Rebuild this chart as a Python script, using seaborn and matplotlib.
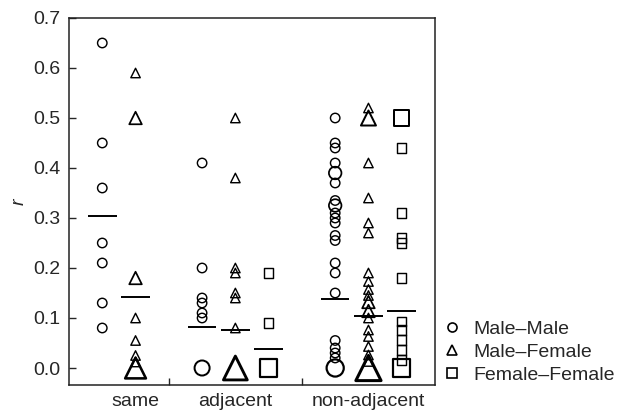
import numpy as np
import pandas as pd
import matplotlib
matplotlib.use("Agg")
import matplotlib.pyplot as plt
from matplotlib.lines import Line2D
import seaborn as sns

# r values and number of pairs sharing each value (marker size)
same_mm_r = [0.65, 0.45, 0.36, 0.25, 0.21, 0.13, 0.08]
same_mm_n = [1, 1, 1, 1, 1, 1, 1]
same_mf_r = [0.59, 0.50, 0.18, 0.10, 0.055, 0.025, 0.012, 0.0]
same_mf_n = [1, 2, 2, 1, 1, 1, 1, 6]

adj_mm_r = [0.41, 0.20, 0.14, 0.13, 0.11, 0.10, 0.0]
adj_mm_n = [1, 1, 1, 1, 1, 1, 3]
adj_mf_r = [0.50, 0.38, 0.20, 0.19, 0.15, 0.14, 0.08, 0.0]
adj_mf_n = [1, 1, 1, 1, 1, 1, 1, 8]
adj_ff_r = [0.19, 0.09, 0.0]
adj_ff_n = [1, 1, 4]

nonadj_mm_r = [0.50, 0.45, 0.44, 0.41, 0.39, 0.37, 0.335, 0.325, 0.31, 0.30,
               0.29, 0.265, 0.255, 0.21, 0.19, 0.15, 0.055, 0.04, 0.03, 0.02, 0.0]
nonadj_mm_n = [1, 1, 1, 1, 2, 1, 1, 2, 1, 1,
               1, 1, 1, 1, 1, 1, 1, 1, 1, 1, 4]
nonadj_mf_r = [0.52, 0.50, 0.41, 0.34, 0.29, 0.27, 0.19, 0.173, 0.157, 0.145,
               0.132, 0.114, 0.10, 0.076, 0.063, 0.043, 0.026, 0.013, 0.0]
nonadj_mf_n = [1, 3, 1, 1, 1, 1, 1, 1, 1, 1,
               2, 2, 1, 1, 1, 1, 1, 1, 9]
nonadj_ff_r = [0.50, 0.44, 0.31, 0.26, 0.25, 0.18, 0.093, 0.076, 0.056, 0.036, 0.016, 0.0]
nonadj_ff_n = [3, 1, 1, 1, 1, 1, 1, 1, 1, 1, 1, 4]

# mean r of each group (horizontal bars)
mean_same = [0.304, 0.142]
mean_adj = [0.083, 0.076, 0.038]
mean_nonadj = [0.139, 0.104, 0.115]

groups = ["same", "adjacent", "non-adjacent"]
pairs = ["Male\u2013Male", "Male\u2013Female", "Female\u2013Female"]

series = [
    ("same", 0, same_mm_r, same_mm_n),
    ("same", 1, same_mf_r, same_mf_n),
    ("adjacent", 0, adj_mm_r, adj_mm_n),
    ("adjacent", 1, adj_mf_r, adj_mf_n),
    ("adjacent", 2, adj_ff_r, adj_ff_n),
    ("non-adjacent", 0, nonadj_mm_r, nonadj_mm_n),
    ("non-adjacent", 1, nonadj_mf_r, nonadj_mf_n),
    ("non-adjacent", 2, nonadj_ff_r, nonadj_ff_n),
]
means = {"same": mean_same, "adjacent": mean_adj, "non-adjacent": mean_nonadj}

# column positions: groups separated by an empty slot
offset = {"same": 1, "adjacent": 4, "non-adjacent": 8}

rows = []
for g, k, rs, ns in series:
    for r, n in zip(rs, ns):
        rows.append({"group": g, "pair": pairs[k], "x": offset[g] + k, "r": r, "n": n})
df = pd.DataFrame(rows)

sns.set_style("ticks")
plt.rcParams["font.family"] = ["Liberation Sans", "DejaVu Sans"]

fig = plt.figure(figsize=(6.29, 4.11), dpi=100)
ax = fig.add_axes([69 / 629, 1 - 385 / 411, 366 / 629, 367 / 411])

sns.scatterplot(data=df, x="x", y="r", style="pair", size="n",
                markers={pairs[0]: "o", pairs[1]: "^", pairs[2]: "s"},
                sizes=(46, 330), size_norm=(1, 9), legend=False, ax=ax)
coll = ax.collections[0]
coll.set_facecolor("none")
coll.set_edgecolor("black")
coll.set_linewidths(0.1 * np.sqrt(coll.get_sizes()) + 0.35)

for g in groups:
    for k, m in enumerate(means[g]):
        x0 = offset[g] + k
        ax.hlines(m, x0 - 0.43, x0 + 0.43, color="black", lw=1.4, zorder=5)

ax.set_xlim(0, 11)
ax.set_ylim(-0.034, 0.70)
ax.set_yticks(np.arange(0, 0.71, 0.1))
ax.set_yticklabels([f"{v:.1f}" for v in np.arange(0, 0.71, 0.1)])
ax.set_xticks([3, 7])
ax.set_xticklabels([])
ax.set_xticks([2, 5, 9], minor=True)
ax.set_xticklabels(groups, minor=True)
ax.tick_params(axis="x", which="minor", length=0, pad=6, labelsize=14)
ax.tick_params(axis="x", which="major", direction="in", length=5, width=1)
ax.tick_params(axis="y", direction="in", length=5, width=1, labelsize=14, pad=6)
ax.set_xlabel("")
ax.set_ylabel("r", fontsize=14, style="italic", labelpad=4)
for s in ax.spines.values():
    s.set_visible(True)
    s.set_linewidth(1.1)
    s.set_color("#222222")

handles = [Line2D([], [], ls="none", marker=mk, ms=6.5, mfc="none", mec="black", mew=1.2)
           for mk in ["o", "^", "s"]]
fig.legend(handles, pairs, loc="center left", bbox_to_anchor=(442 / 629, 1 - 352 / 411),
           frameon=False, fontsize=14, handlelength=1.0, handletextpad=0.6,
           labelspacing=0.28, borderpad=0, borderaxespad=0)

fig.savefig("out.png", dpi=100)
